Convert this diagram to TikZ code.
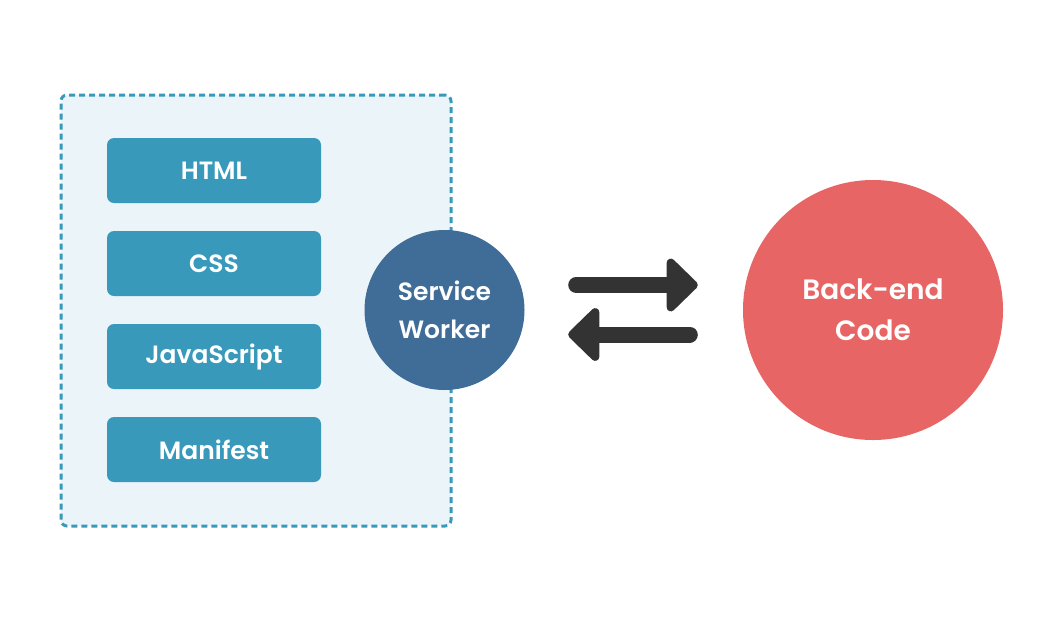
\documentclass[tikz,border=0pt]{standalone}
\usepackage{fontspec}
\setmainfont{Poppins}[BoldFont={Poppins SemiBold}]
\usetikzlibrary{arrows.meta,positioning}
\definecolor{FileBlue}{HTML}{3899BB}
\definecolor{PanelBlue}{HTML}{EBF4F9}
\definecolor{WorkerBlue}{HTML}{3F6D98}
\definecolor{BackRed}{HTML}{E76665}
\definecolor{ArrowGray}{HTML}{333333}

\begin{document}
\begin{tikzpicture}[x=1pt,y=-1pt,
  panel/.style={rectangle,rounded corners=6pt,draw=FileBlue,fill=PanelBlue,line width=3pt,dash pattern=on 6pt off 4pt,minimum width=390pt,minimum height=431pt},
  file/.style={rectangle,rounded corners=7pt,fill=FileBlue,minimum width=214pt,minimum height=65pt,inner sep=0pt,text=white,font=\fontsize{25}{30}\selectfont\bfseries},
  worker/.style={circle,fill=WorkerBlue,minimum size=160pt,inner sep=0pt,align=center,text=white,font=\fontsize{25}{38}\selectfont\bfseries},
  backend/.style={circle,fill=BackRed,minimum size=260pt,inner sep=0pt,align=center,text=white,font=\fontsize{28}{41}\selectfont\bfseries},
  flow/.style={-{Triangle[length=33pt,width=62pt,round]},line width=16pt,line cap=round,ArrowGray}
]
  \useasboundingbox (0,0) rectangle (1064,622);
  \node[panel] (panel) at (256,310.5) {};
  \node[file] (html) at (214,170.5) {HTML};
  \node[file] (css) at (214,263.5) {CSS};
  \node[file] (js) at (214,356.5) {JavaScript};
  \node[file] (manifest) at (214,449.5) {Manifest};
  \node[worker] (sw) at (444.5,310) {Service\\Worker};
  \node[backend] (be) at (873,310) {Back-end\\Code};
  % arrow ends, inset by the round cap
  \coordinate[right=51.5pt of sw.east,yshift=25pt] (out1);
  \coordinate[left=45pt of be.west,yshift=25pt] (out2);
  \coordinate[right=43.5pt of sw.east,yshift=-24.5pt] (in2);
  \coordinate[left=53pt of be.west,yshift=-24.5pt] (in1);
  \draw[flow] (out1) -- (out2);
  \draw[flow] (in1) -- (in2);
\end{tikzpicture}
\end{document}
